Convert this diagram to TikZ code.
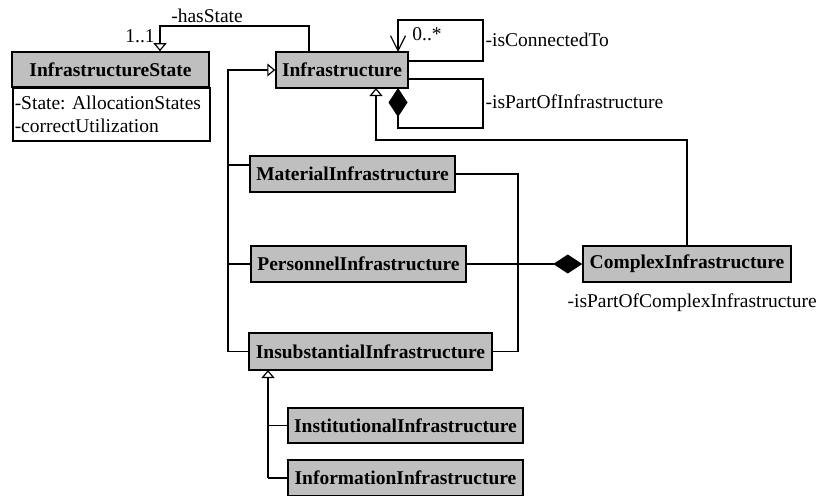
\documentclass[tikz,border=0pt]{standalone}
\usepackage{fontspec}
\setmainfont{Liberation Serif}
\usetikzlibrary{arrows.meta}
\frenchspacing
\begin{document}
\begin{tikzpicture}[x=1pt,y=-1pt,
  line width=1.25pt,
  cls/.style={draw=black, fill=black!25, line width=1.5pt, inner sep=0pt,
    font=\fontsize{19.5}{23}\selectfont\bfseries},
  attr/.style={draw=black, fill=white, line width=1.5pt, inner sep=2pt,
    font=\fontsize{19.5}{23}\selectfont\frenchspacing, align=left, text width=193pt},
  lbl/.style={font=\fontsize{19.5}{23}\selectfont, inner sep=0pt},
  gen/.style={-{Triangle[open, fill=white, length=8pt, width=13pt, line width=1.2pt]}},
  nav/.style={-{Straight Barb[length=15pt, width=15pt, line width=1.2pt]}},
  comp/.style={-{Diamond[length=29pt, width=19pt]}}]
\useasboundingbox (0,0) rectangle (818,495);

% classes
\node[cls, minimum width=197pt, minimum height=35pt] (state) at (110.5,69.5) {InfrastructureState};
\node[attr, minimum height=53pt, anchor=north west] (stateattr) at (12,87) {-State: AllocationStates\\-correctUtilization};
\node[cls, minimum width=132pt, minimum height=36pt] (infra) at (342,70) {Infrastructure};
\node[cls, minimum width=205pt, minimum height=36pt] (mat) at (352.5,174) {MaterialInfrastructure};
\node[cls, minimum width=215pt, minimum height=36pt] (pers) at (358.5,264) {PersonnelInfrastructure};
\node[cls, minimum width=243pt, minimum height=37pt] (insub) at (370.5,351.5) {InsubstantialInfrastructure};
\node[cls, minimum width=208pt, minimum height=36pt] (complex) at (687,264) {ComplexInfrastructure};
\node[cls, minimum width=235pt, minimum height=35pt] (inst) at (405.5,425.5) {InstitutionalInfrastructure};
\node[cls, minimum width=235pt, minimum height=36pt] (info) at (405.5,478) {InformationInfrastructure};

% coordinates for routing
\coordinate (hsA) at (309,26);
\coordinate (hsB) at (160,26);
\coordinate (icA) at (483,61);
\coordinate (icB) at (483,20);
\coordinate (icC) at (398,20);
\coordinate (icT) at (398,52);
\coordinate (ipA) at (483,79);
\coordinate (ipB) at (483,128);
\coordinate (ipC) at (398,128);
\coordinate (ipT) at (398,88);
\coordinate (cxA) at (687,140);
\coordinate (cxB) at (376,140);
\coordinate (cxT) at (376,88);
\coordinate (trunk) at (228,351.5);
\coordinate (trTop) at (228,70);
\coordinate (brM) at (228,165);
\coordinate (brMe) at (250,165);
\coordinate (brP) at (228,264);
\coordinate (rbA) at (518,174);
\coordinate (rbB) at (518,351.5);
\coordinate (lowT) at (268,370);
\coordinate (lowI) at (268,425.5);
\coordinate (lowF) at (268,478);

% hasState
\draw[gen] (infra.north -| hsA) -- (hsA) -- (hsB) -- (state.north -| hsB);
% isConnectedTo (self loop)
\draw[nav] (infra.east |- icA) -- (icA) -- (icB) -- (icC) -- (icT);
% isPartOfInfrastructure (self composition)
\draw[comp] (infra.east |- ipA) -- (ipA) -- (ipB) -- (ipC) -- (ipT);
% ComplexInfrastructure generalization
\draw[gen] (complex.north) -- (cxA) -- (cxB) -- (cxT);
% left generalization tree
\draw[gen] (insub.west) -- (trunk) -- (trTop) -- (infra.west);
\draw (brM) -- (brMe);
\draw (brP) -- (pers.west);
% material to insubstantial bracket
\draw (mat.east) -- (rbA) -- (rbB) -- (insub.east);
% personnel composition to complex
\draw[comp] (pers.east) -- (complex.west);
% lower generalization
\draw[gen] (lowF) -- (lowT);
\draw (lowI) -- (inst.west);
\draw (lowF) -- (info.west);

% labels
\node[lbl] (lhs) at (207,16) {-hasState};
\node[lbl] (l11) at (140,36) {1..1};
\node[lbl] (l0s) at (427,34) {0..*};
\node[lbl, anchor=west] (lic) at (485,40) {-isConnectedTo};
\node[lbl, anchor=west] (lip) at (485,102) {-isPartOfInfrastructure};
\node[lbl, anchor=west] (lipc) at (567,303) {-isPartOfComplexInfrastructure};
\end{tikzpicture}
\end{document}
